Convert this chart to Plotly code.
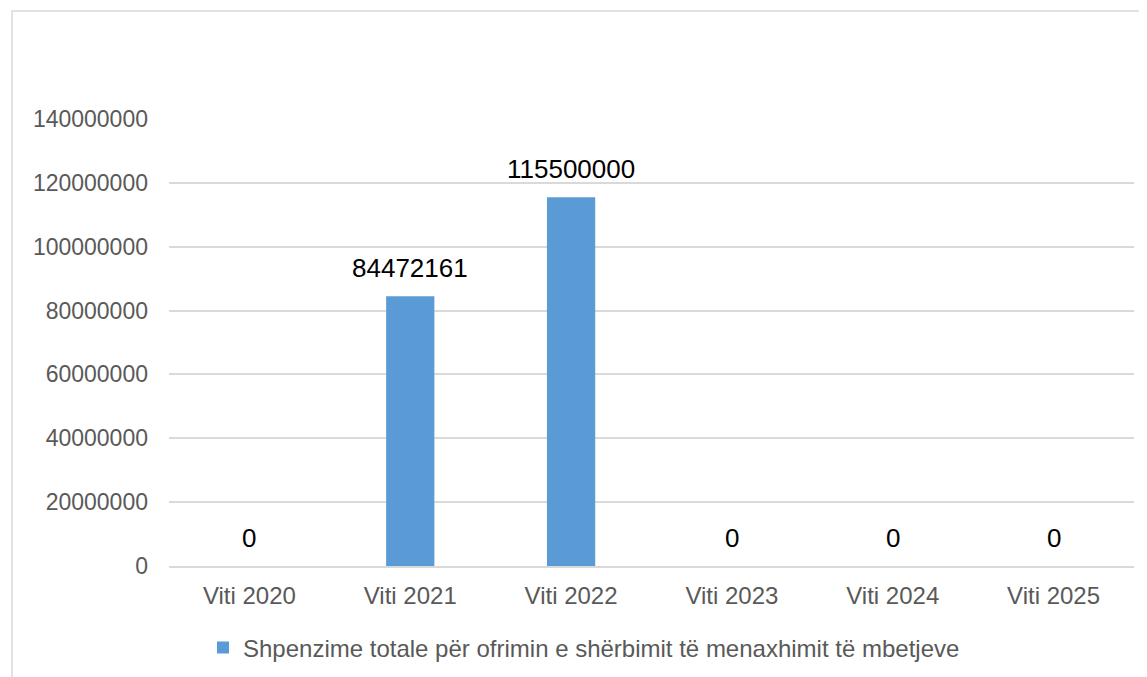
import plotly.graph_objects as go

categories = ["Viti 2020", "Viti 2021", "Viti 2022", "Viti 2023", "Viti 2024", "Viti 2025"]
values = [0, 84472161, 115500000, 0, 0, 0]
series_name = "Shpenzime totale për ofrimin e shërbimit të menaxhimit të mbetjeve"
y_ticks = [0, 20000000, 40000000, 60000000, 80000000, 100000000, 120000000, 140000000]

OFFX, OFFY = 7, 8  # page body margin offset
W, H = 1147 - 8, 677 - 8
L, T = 168 - OFFX, 119 - OFFY
R = W - (1133 - OFFX)
B = H - (566 - OFFY)
pw, ph = W - L - R, H - T - B

fig = go.Figure()
fig.add_trace(go.Bar(
    x=categories, y=values, name=series_name,
    marker=dict(color="#5b9bd5", line=dict(width=0)),
    showlegend=True,
))

for c, v in zip(categories, values):
    fig.add_annotation(x=c, y=v, text=str(v), showarrow=False,
                       yanchor="bottom", yshift=11,
                       font=dict(family="Liberation Sans, Arial", size=26, color="#000000"))

def px_x(p):
    return (p - OFFX - L) / pw

def px_y(p):
    return (H - B - (p - OFFY)) / ph

fig.add_shape(type="rect", xref="paper", yref="paper",
              x0=px_x(11), x1=px_x(1147 + 30), y0=px_y(677 + 30), y1=px_y(11),
              line=dict(color="#d9d9d9", width=1.5), fillcolor="rgba(0,0,0,0)", layer="below")

fig.update_layout(
    width=W, height=H,
    margin=dict(l=L, r=R, t=T, b=B, pad=0, autoexpand=False),
    paper_bgcolor="white", plot_bgcolor="white",
    font=dict(family="Liberation Sans, Arial", size=23, color="#595959"),
    bargap=0.7,
    showlegend=True,
    legend=dict(orientation="h", x=px_x(583), xanchor="center", y=px_y(648), yanchor="middle",
                font=dict(size=24, color="#595959"), itemwidth=30,
                bgcolor="rgba(0,0,0,0)"),
    xaxis=dict(showgrid=False, showline=True, linecolor="#d9d9d9", linewidth=1.5,
               ticks="", tickfont=dict(size=24, color="#595959"), ticklabelstandoff=7),
    yaxis=dict(range=[0, 140000000], tickvals=y_ticks, ticktext=[str(t) for t in y_ticks],
               showgrid=True, gridcolor="#d9d9d9", gridwidth=1.5,
               zeroline=False, showline=False, ticks="",
               tickfont=dict(size=23, color="#595959"), ticklabelstandoff=20),
)

fig.write_html("out.html")
